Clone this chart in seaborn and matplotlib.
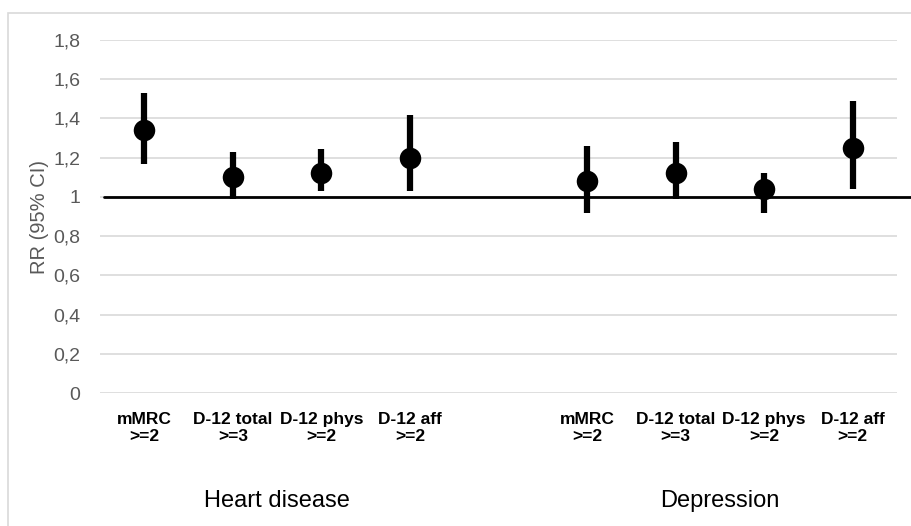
import matplotlib
matplotlib.use("Agg")
import matplotlib.pyplot as plt
import seaborn as sns
import numpy as np
import pandas as pd
from matplotlib.patches import Rectangle

groups = ["Heart disease", "Depression"]
measures = ["mMRC\n>=2", "D-12 total\n>=3", "D-12 phys\n>=2", "D-12 aff\n>=2"]
heart_rr = [1.34, 1.10, 1.12, 1.20]
heart_lo = [1.17, 0.99, 1.03, 1.03]
heart_hi = [1.53, 1.23, 1.245, 1.42]
dep_rr = [1.08, 1.12, 1.04, 1.25]
dep_lo = [0.92, 0.99, 0.92, 1.04]
dep_hi = [1.26, 1.28, 1.12, 1.49]
yticks = [0, 0.2, 0.4, 0.6, 0.8, 1.0, 1.2, 1.4, 1.6, 1.8]
ytick_labels = ["0", "0,2", "0,4", "0,6", "0,8", "1", "1,2", "1,4", "1,6", "1,8"]

sns.set_theme(style="white")
plt.rcParams["font.family"] = ["Liberation Sans", "DejaVu Sans"]

n = len(measures)
pos = [i for i in range(n)] + [i + n + 1 for i in range(n)]
df = pd.DataFrame({
    "pos": pos,
    "rr": heart_rr + dep_rr,
    "lo": heart_lo + dep_lo,
    "hi": heart_hi + dep_hi,
    "label": measures + measures,
    "group": [groups[0]] * n + [groups[1]] * n,
})

fig = plt.figure(figsize=(9.12, 5.26), dpi=100)
ax = fig.add_axes([100 / 912, 1 - 393 / 526, 797 / 912, 353 / 526])

# outer border
fig.patches.append(Rectangle((8 / 912, -0.1), 1.2, (526 - 13) / 526 + 0.1,
                             transform=fig.transFigure, fill=False,
                             edgecolor="#d9d9d9", linewidth=1.2, zorder=0))

ax.set_xlim(-0.5, 2 * n + 0.5)
ax.set_ylim(0, 1.8)
ax.set_yticks(yticks)
ax.set_yticklabels(ytick_labels, fontsize=14, color="#595959")
ax.yaxis.grid(True, color="#d9d9d9", linewidth=1.2)
ax.xaxis.grid(False)
for s in ax.spines.values():
    s.set_visible(False)
ax.tick_params(axis="y", length=0, pad=14)
ax.tick_params(axis="x", length=0, pad=14)

ax.axhline(1.0, xmin=0.005, xmax=(912 - 100) / 797, color="black",
           linewidth=2, clip_on=False, zorder=2)

ax.vlines(df["pos"], df["lo"], df["hi"], color="black", linewidth=4.5, zorder=3)
sns.scatterplot(data=df, x="pos", y="rr", ax=ax, color="black", s=240,
                edgecolor="black", linewidth=0, zorder=4, legend=False)

ax.set_xticks(df["pos"])
ax.set_xticklabels(df["label"], fontsize=12.5, fontweight="bold", color="black",
                   linespacing=1.1)
ax.set_xlabel("")
ax.set_ylabel("RR (95% CI)", fontsize=14.5, color="#595959", labelpad=3)

for gi, g in enumerate(groups):
    sub = df[df["group"] == g]["pos"]
    ax.text(sub.mean(), -0.55, g, ha="center", va="center", fontsize=17,
            color="black", transform=ax.transData)

fig.savefig("out.png", dpi=100)
